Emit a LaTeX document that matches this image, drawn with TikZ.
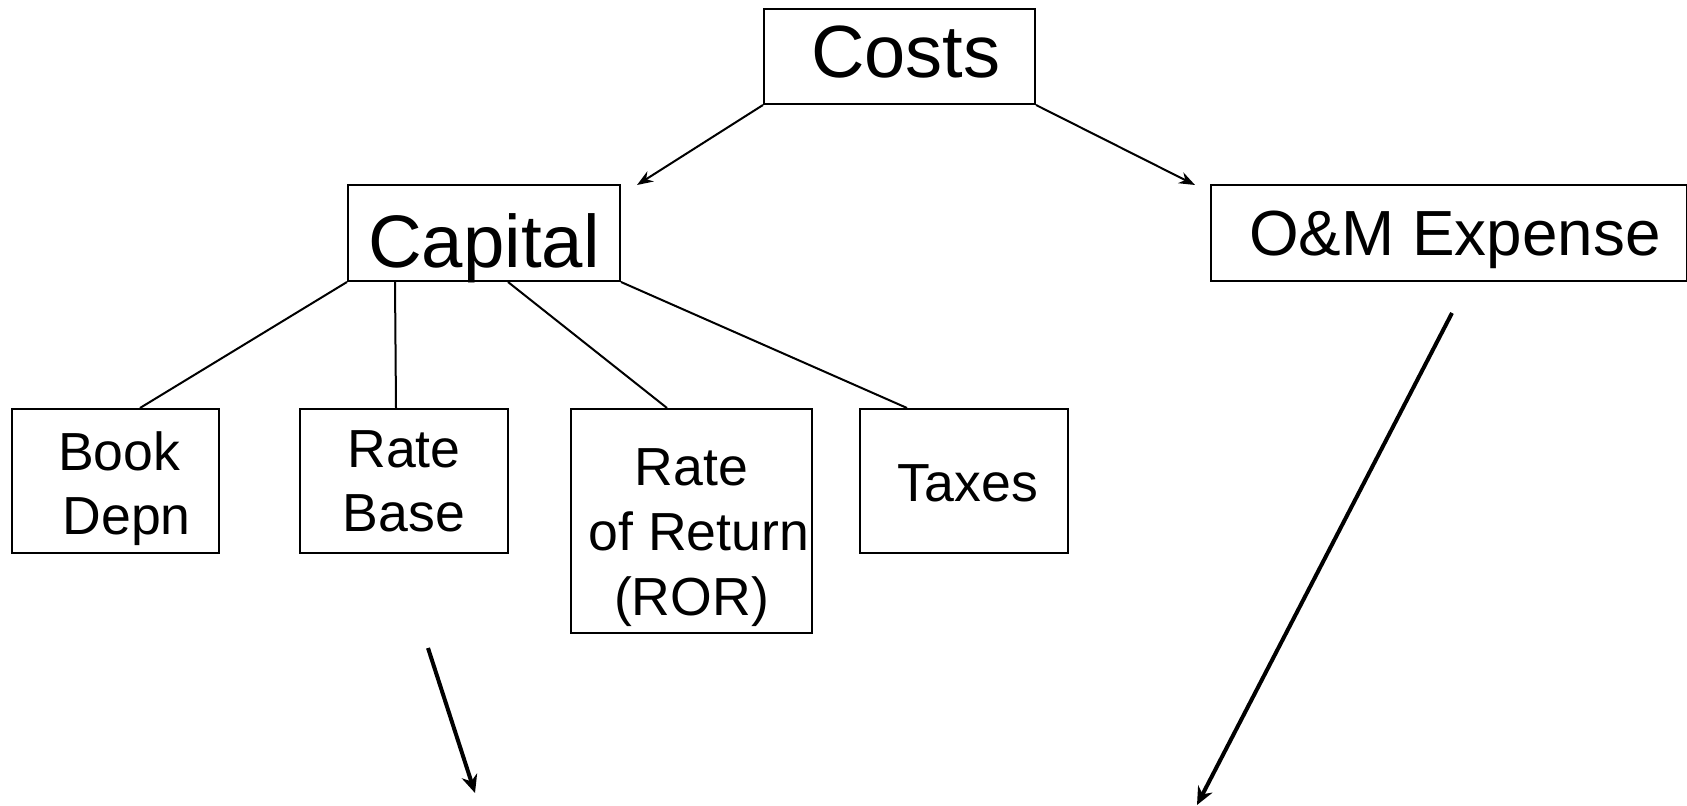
\documentclass[tikz,border=0pt]{standalone}
\usepackage{fontspec}
\setmainfont{Liberation Sans}
\usetikzlibrary{arrows.meta}
% text placed a bit off the middle of its box: #1 extra left room, #2 raise
\newcommand{\intext}[3]{\raisebox{#2}[\height][\depth]{\hspace*{#1}\begin{tabular}{@{}c@{}}#3\end{tabular}}}

\begin{document}
\begin{tikzpicture}[x=0.5pt,y=-0.5pt,
  box/.style={draw,line width=1pt,inner sep=0pt,font=\fontsize{26.8}{32.3}\selectfont},
  branch/.style={line width=1pt},
  link/.style={line width=1pt,-{Stealth[length=8pt,width=6pt]}},
  bigarrow/.style={line width=2pt,-{Stealth[length=9pt,width=8pt]}}]
\useasboundingbox (0,0) rectangle (1687,806);

\node [box, minimum width=135.5pt, minimum height=47.5pt, font=\fontsize{37}{44}\selectfont] (costs) at (899.5,56.5) {\intext{6.4pt}{-1.9pt}{Costs}};
\node [box, minimum width=136pt, minimum height=48pt, font=\fontsize{37.2}{44}\selectfont] (capital) at (484,233) {\intext{0pt}{-8.3pt}{Capital}};
\node [box, minimum width=238pt, minimum height=48pt, font=\fontsize{31.9}{38}\selectfont] (om) at (1449,233) {\intext{6pt}{-3.8pt}{O\&M Expense}};

\node [box, minimum width=103.5pt, minimum height=72pt] (book) at (115.5,481) {\intext{3.8pt}{-4.3pt}{Book\\\ Depn}};
\node [box, minimum width=104pt, minimum height=72pt] (ratebase) at (404,481) {\intext{0pt}{-2.7pt}{Rate\\Base}};
\node [box, minimum width=120.5pt, minimum height=112pt] (ror) at (691.5,521) {\intext{0pt}{-8.3pt}{Rate\\\ of Return\\(ROR)}};
\node [box, minimum width=104pt, minimum height=72pt] (taxes) at (964,481) {\intext{4pt}{-3.7pt}{Taxes}};

\coordinate (capin) at (637,185);
\coordinate (omin) at (1195,185);
\draw [link] (costs.south west) -- (capin);
\draw [link] (costs.south east) -- (omin);

\draw [branch] (capital.south west) -- ([xshift=12.25pt]book.north);
\draw [branch] ([xshift=24pt]capital.south west) -- ([xshift=-4pt]ratebase.north);
\draw [branch] ([xshift=12pt]capital.south) -- ([xshift=-12.25pt]ror.north);
\draw [branch] (capital.south east) -- ([xshift=-28.5pt]taxes.north);

% arrows down to next slide
\coordinate (rbfrom) at (428,648);
\coordinate (rbto) at (475,793);
\coordinate (omfrom) at (1452,313);
\coordinate (omto) at (1197,805);
\draw [bigarrow] (rbfrom) -- (rbto);
\draw [bigarrow] (omfrom) -- (omto);

\end{tikzpicture}
\end{document}
